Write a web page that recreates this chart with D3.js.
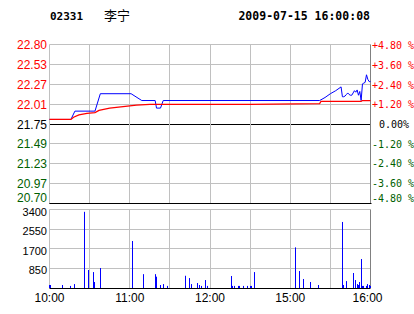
<!DOCTYPE html>
<html>
<head>
<meta charset="utf-8">
<script src="https://cdn.jsdelivr.net/npm/d3@7"></script>
<style>
  body { margin: 0; background: #fff; }
  svg { display: block; }
</style>
</head>
<body>
<div id="chart"></div>
<script>
// minutes since 10:00 (HK session: 10:00-12:30, 14:30-16:00)
const timeTicks = [0, 60, 120, 180, 240];
const timeLabels = ["10:00", "11:00", "12:00", "15:00", "16:00"];

const priceTicks = [22.80, 22.53, 22.27, 22.01, 21.75, 21.49, 21.23, 20.97, 20.70];
const pctLabels = ["+4.80 %", "+3.60 %", "+2.40 %", "+1.20 %", "0.00%", "-1.20 %", "-2.40 %", "-3.60 %", "-4.80 %"];
const volTicks = [850, 1700, 2550, 3400];

// last price
const priceMin = [0, 16, 19, 34, 38, 61, 69, 79, 80, 83, 85, 202, 206, 210, 214, 218, 219, 220, 221, 222, 223, 224, 225, 226, 227, 228, 229, 230, 231, 232, 233, 234, 235, 236, 237, 238, 239, 240];
const priceVal = [21.81, 21.81, 21.92, 21.92, 22.15, 22.15, 22.06, 22.06, 21.96, 21.96, 22.06, 22.06, 22.10, 22.15, 22.19, 22.24, 22.11, 22.11, 22.12, 22.14, 22.16, 22.14, 22.13, 22.13, 22.16, 22.19, 22.17, 22.20, 22.13, 22.18, 22.06, 22.28, 22.29, 22.30, 22.40, 22.34, 22.31, 22.31];

// average price
const avgMin = [0, 16, 18, 22, 28, 34, 37, 45, 55, 65, 75, 100, 150, 202, 203, 233, 234, 240];
const avgVal = [21.81, 21.81, 21.84, 21.87, 21.89, 21.90, 21.93, 21.96, 21.98, 22.00, 22.01, 22.01, 22.01, 22.02, 22.05, 22.05, 22.06, 22.06];

// volume
const volMin = [0, 1, 10, 16, 19, 26, 29, 33, 34, 38, 62, 70, 79, 80, 83, 85, 88, 102, 105, 106, 111, 112, 114, 117, 118, 136, 137, 138, 141, 142, 145, 148, 150, 151, 153, 184, 187, 190, 195, 201, 219, 220, 222, 227, 229, 230, 231, 232, 233, 234, 235, 237, 238, 239, 240];
const volVal = [130, 130, 130, 90, 170, 3300, 780, 690, 260, 865, 2035, 600, 600, 490, 130, 170, 90, 530, 430, 170, 215, 130, 90, 345, 90, 520, 90, 90, 90, 90, 90, 90, 90, 90, 690, 1760, 735, 390, 260, 130, 2860, 130, 300, 650, 345, 170, 130, 260, 1255, 90, 90, 90, 170, 130, 90];

const W = 414, H = 314;
const grey = "#c0c0c0", red = "#ff0000", green = "#006000";

const svg = d3.select("#chart").append("svg")
  .attr("width", W)
  .attr("height", H);

const x = d3.scaleLinear().domain([0, 240]).range([49.5, 370.5]);
const y = d3.scaleLinear().domain([20.70, 22.80]).range([203.5, 44.5]);
const yv = d3.scaleLinear().domain([0, 3400]).range([288, 209.5]);

const px = v => Math.round(v - 0.5) + 0.5;

// header
svg.append("text")
  .attr("x", 50).attr("y", 20)
  .attr("font-family", "DejaVu Sans Mono").attr("font-weight", "bold").attr("font-size", 11)
  .text("02331");
svg.append("text")
  .attr("x", 104).attr("y", 20)
  .attr("font-family", "Noto Sans CJK SC").attr("font-size", 13)
  .text("李宁");
svg.append("text")
  .attr("x", 370).attr("y", 20).attr("text-anchor", "end")
  .attr("font-family", "DejaVu Sans Mono").attr("font-weight", "bold").attr("font-size", 11.5)
  .text("2009-07-15 16:00:08");

// price panel grid
const pg = svg.append("g");
pg.selectAll(".hg").data(priceTicks).enter().append("line")
  .attr("x1", x(0)).attr("x2", x(240))
  .attr("y1", d => px(y(d))).attr("y2", d => px(y(d)))
  .attr("stroke", (d, i) => (i === 4 || i === 8) ? "#000" : grey);
pg.selectAll(".vg").data(d3.range(0, 241, 30)).enter().append("line")
  .attr("x1", d => px(x(d))).attr("x2", d => px(x(d)))
  .attr("y1", y(22.80)).attr("y2", y(20.70))
  .attr("stroke", d => d === 240 ? "#808080" : grey);
pg.append("line")
  .attr("x1", x(0)).attr("x2", x(240) + 1)
  .attr("y1", px(y(20.70))).attr("y2", px(y(20.70)))
  .attr("stroke", "#000");

// price labels (the lowest one is lifted to stay clear of the volume panel)
const tickColor = (i) => i < 4 ? red : (i === 4 ? "#000" : green);
const lift = (i) => i === priceTicks.length - 1 ? -6 : 0;
svg.selectAll(".pl").data(priceTicks).enter().append("text")
  .attr("x", 47).attr("y", (d, i) => y(d) + 4.5 + lift(i))
  .attr("text-anchor", "end")
  .attr("font-family", "Liberation Sans, Arial").attr("font-size", 12)
  .attr("fill", (d, i) => tickColor(i))
  .text(d => d.toFixed(2));
svg.selectAll(".rl").data(pctLabels).enter().append("text")
  .attr("x", (d, i) => i === 4 ? 379 : 372)
  .attr("y", (d, i) => y(priceTicks[i]) + 4 + lift(i))
  .attr("font-family", "DejaVu Sans Mono").attr("font-size", 10)
  .attr("fill", (d, i) => tickColor(i))
  .text(d => d);

// lines
const priceLine = d3.line()
  .x(d => x(d[0]))
  .y(d => y(d[1]));
svg.append("path")
  .datum(priceMin.map((m, i) => [m, priceVal[i]]))
  .attr("d", priceLine)
  .attr("fill", "none").attr("stroke", "#0000ff").attr("stroke-width", 1);
svg.append("path")
  .datum(avgMin.map((m, i) => [m, avgVal[i]]))
  .attr("d", priceLine)
  .attr("fill", "none").attr("stroke", red).attr("stroke-width", 1.3);

// volume panel grid
const vg = svg.append("g");
vg.selectAll(".hg").data([0].concat(volTicks)).enter().append("line")
  .attr("x1", x(0)).attr("x2", x(240))
  .attr("y1", d => px(yv(d))).attr("y2", d => px(yv(d)))
  .attr("stroke", d => d === 0 ? "#000" : grey);
vg.selectAll(".vg").data(d3.range(0, 241, 30)).enter().append("line")
  .attr("x1", d => px(x(d))).attr("x2", d => px(x(d)))
  .attr("y1", yv(3400)).attr("y2", yv(0))
  .attr("stroke", d => d === 240 ? "#808080" : grey);

// volume bars
svg.selectAll(".bar").data(volMin.map((m, i) => [m, volVal[i]])).enter().append("rect")
  .attr("x", d => Math.round(x(d[0]) - 0.5))
  .attr("width", 1)
  .attr("y", d => yv(d[1]))
  .attr("height", d => yv(0) - yv(d[1]))
  .attr("fill", "#0000ff");

// volume labels
svg.selectAll(".vl").data(volTicks).enter().append("text")
  .attr("x", 47).attr("y", d => yv(d) + 6)
  .attr("text-anchor", "end")
  .attr("font-family", "Liberation Sans, Arial").attr("font-size", 11)
  .text(d => d);

// time labels
svg.selectAll(".tl").data(timeTicks).enter().append("text")
  .attr("x", (d, i) => x(d) + (i === timeTicks.length - 1 ? -3 : 0))
  .attr("y", 302)
  .attr("text-anchor", "middle")
  .attr("font-family", "Liberation Sans, Arial").attr("font-size", 12)
  .text((d, i) => timeLabels[i]);
</script>
</body>
</html>
